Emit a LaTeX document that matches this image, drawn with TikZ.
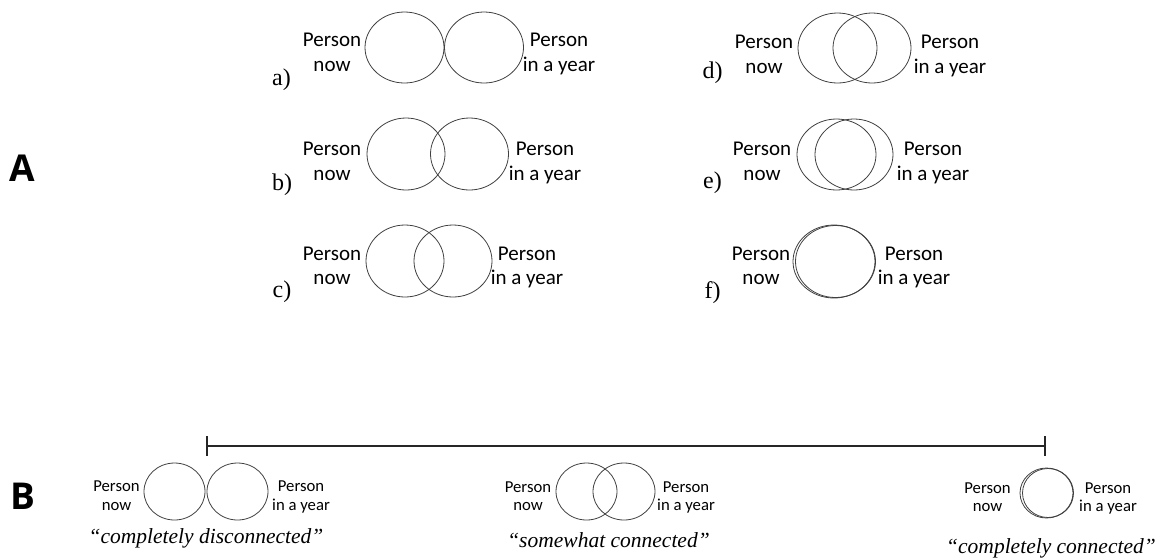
\documentclass[tikz,border=0pt]{standalone}
\usepackage{fontspec}
\setmainfont{Liberation Serif}
\newfontfamily\calfont{Carlito}
\newfontfamily\labfont{Open Sans}
\usetikzlibrary{shapes.geometric}
\tikzset{
  circ/.style={draw=black!75, line width=0.8pt, ellipse, inner sep=0pt, minimum width=#1},
  ptxt/.style={align=center, inner sep=0pt, anchor=base, font=\calfont\fontsize{21}{24.5}\selectfont},
  ptxtb/.style={align=center, inner sep=0pt, anchor=base, font=\calfont\fontsize{16.7}{18.5}\selectfont},
  plab/.style={inner sep=0pt, font=\fontsize{24}{28}\selectfont},
  quote/.style={inner sep=0pt, font=\itshape\fontsize{21.5}{26}\selectfont},
  big/.style={inner sep=0pt, font=\labfont\bfseries\fontsize{37}{40}\selectfont},
  scaleline/.style={line width=1.6pt, black!85}
}
\begin{document}
\begin{tikzpicture}[x=1pt,y=-1pt]
\useasboundingbox (0,0) rectangle (1162,558);
% ---- A ----
\node[big] (A) at (22.5,168.5) {A};
% a
\node[circ=79pt, minimum height=71pt] (a1) at (404.5,47.5) {};
\node[circ=79pt, minimum height=71pt] (a2) at (484,47.5) {};
\node[ptxt] (aL) at (332,71) {Person\\now};
\node[ptxt] (aR) at (559,71) {Person\\in a year};
\node[plab] (al) at (281.5,80) {a)};
% b
\node[circ=78pt, minimum height=72pt] (b1) at (406,154) {};
\node[circ=78pt, minimum height=72pt] (b2) at (469.5,154) {};
\node[ptxt] (bL) at (332,180) {Person\\now};
\node[ptxt] (bR) at (545,180) {Person\\in a year};
\node[plab] (bl) at (282,185) {b)};
% c
\node[circ=78pt, minimum height=72pt] (c1) at (405,261) {};
\node[circ=78pt, minimum height=72pt] (c2) at (453,261) {};
\node[ptxt] (cL) at (332,284.5) {Person\\now};
\node[ptxt] (cR) at (527,284.5) {Person\\in a year};
\node[plab] (cl) at (282,292) {c)};
% d
\node[circ=79pt, minimum height=70pt] (d1) at (837.5,48) {};
\node[circ=78pt, minimum height=70pt] (d2) at (872,48) {};
\node[ptxt] (dL) at (764,73) {Person\\now};
\node[ptxt] (dR) at (950,73) {Person\\in a year};
\node[plab] (dl) at (712.5,73) {d)};
% e
\node[circ=79pt, minimum height=71pt] (e1) at (836.5,154.5) {};
\node[circ=78pt, minimum height=71pt] (e2) at (854,154.5) {};
\node[ptxt] (eL) at (762,180) {Person\\now};
\node[ptxt] (eR) at (933,180) {Person\\in a year};
\node[plab] (el) at (712.5,183) {e)};
% f
\node[circ=82pt, minimum height=73pt] (f1) at (834,261.5) {};
\node[circ=80pt, minimum height=72pt] (f2) at (835.5,261.5) {};
\node[ptxt] (fL) at (761,284.5) {Person\\now};
\node[ptxt] (fR) at (914,284.5) {Person\\in a year};
\node[plab] (fl) at (712.5,293) {f)};
% ---- B ----
\node[big] (B) at (23,496.5) {B};
\coordinate (s1) at (207,446);
\coordinate (s2) at (1045,446);
\draw[scaleline] (s1) -- (s2);
\draw[scaleline] ([yshift=-9.5pt]s1) -- ([yshift=10.5pt]s1);
\draw[scaleline] ([yshift=-9.5pt]s2) -- ([yshift=10.5pt]s2);
% left
\node[circ=61pt, minimum height=57pt] (g1) at (174.5,491.5) {};
\node[circ=61pt, minimum height=57pt] (g2) at (237.5,491.5) {};
\node[ptxtb] (gL) at (116.5,510) {Person\\now};
\node[ptxtb] (gR) at (301,510) {Person\\in a year};
\node[quote] (gq) at (206,538) {“completely disconnected”};
% middle
\node[circ=61pt, minimum height=57pt] (h1) at (586.5,491.5) {};
\node[circ=62pt, minimum height=57pt] (h2) at (624,491.5) {};
\node[ptxtb] (hL) at (528,510.5) {Person\\now};
\node[ptxtb] (hR) at (686,510.5) {Person\\in a year};
\node[quote] (hq) at (608.5,540) {“somewhat connected”};
% right
\node[circ=53pt, minimum height=50pt] (k1) at (1046.5,493) {};
\node[circ=51pt, minimum height=49pt] (k2) at (1048,493) {};
\node[ptxtb] (kL) at (987.5,511.5) {Person\\now};
\node[ptxtb] (kR) at (1108,511.5) {Person\\in a year};
\node[quote] (kq) at (1051,548) {“completely connected”};
\end{tikzpicture}
\end{document}
